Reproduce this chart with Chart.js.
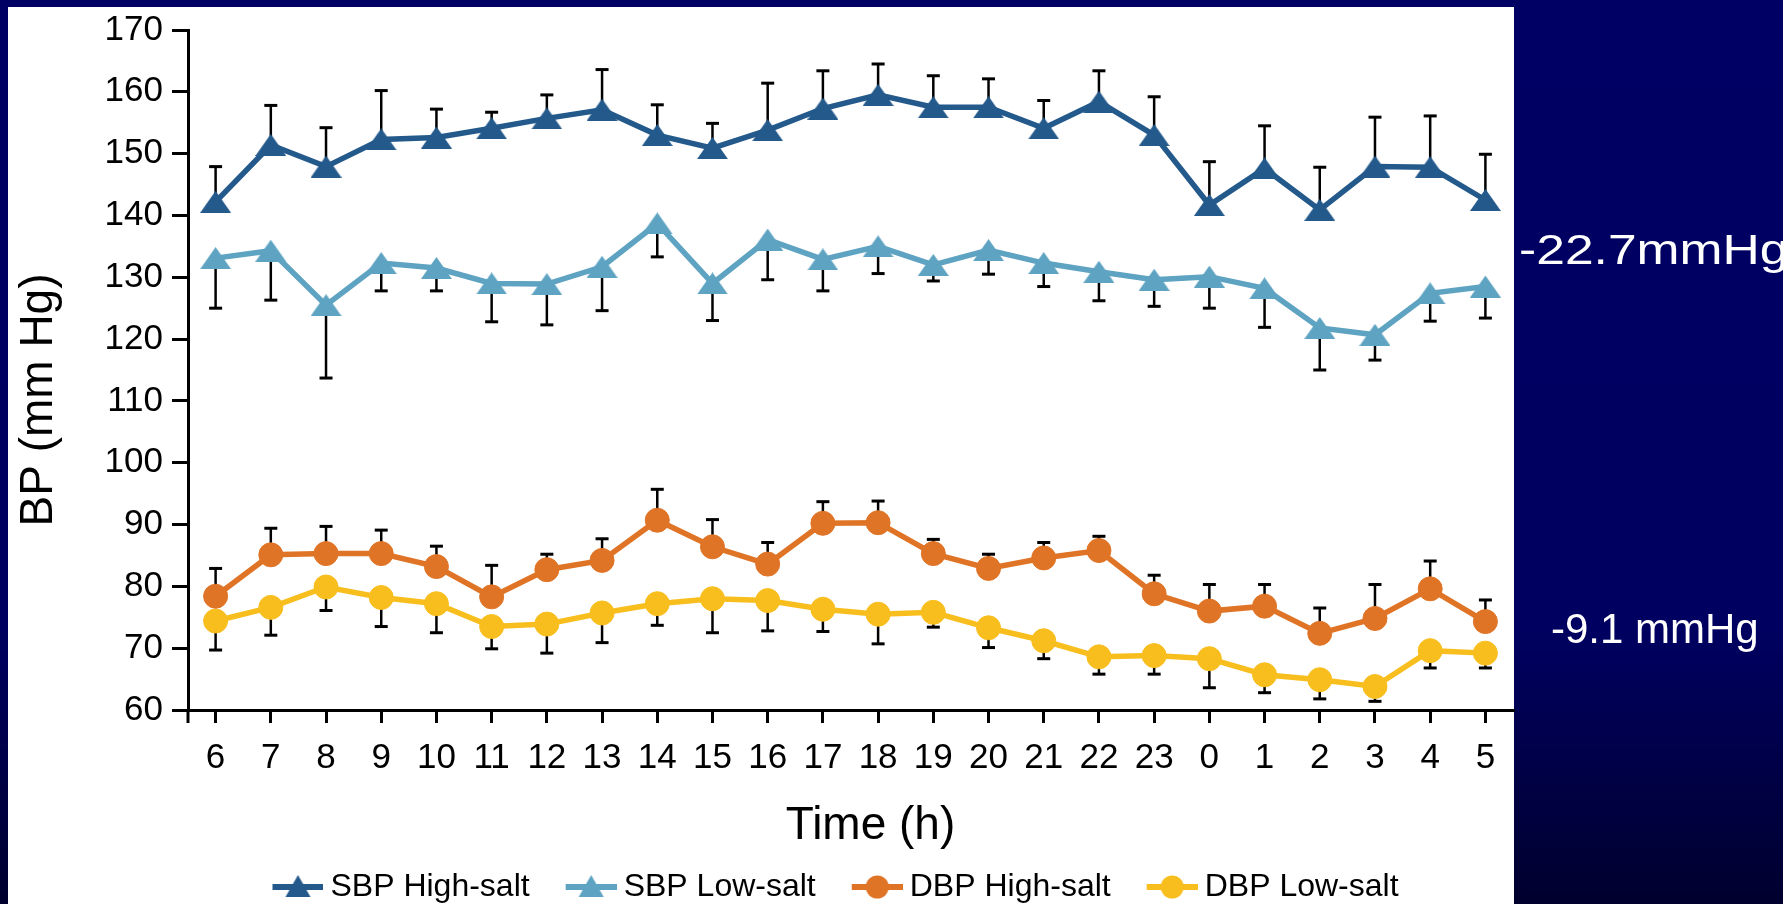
<!DOCTYPE html>
<html>
<head>
<meta charset="utf-8">
<title>BP high vs low salt</title>
<script src="https://cdn.jsdelivr.net/npm/chart.js@4.4.1/dist/chart.umd.min.js"></script>
<style>
  html, body { margin: 0; padding: 0; width: 1783px; height: 904px; overflow: hidden; }
  body {
    position: relative;
    background: linear-gradient(180deg, #000064 0%, #000060 70%, #00002e 100%);
    font-family: "Liberation Sans", Arial, sans-serif;
  }
  #panel { position: absolute; left: 8px; top: 7px; width: 1506px; height: 897px; background: #fff; }
  #bpChart { position: absolute; left: 8px; top: 7px; }
  .note { position: absolute; color: #fff; white-space: nowrap; z-index: 2; }
</style>
</head>
<body>
<div id="panel"></div>
<canvas id="bpChart" width="1620" height="906"></canvas>
<div class="note" style="left:1519px; top:228px; font-size:43px; line-height:43px; transform:scaleX(1.2); transform-origin:left top;">-22.7mmHg</div>
<div class="note" style="left:1551px; top:608px; font-size:42px; line-height:42px;">-9.1 mmHg</div>

<script>
// hours of the day, starting at 6 am
const hours = ['6', '7', '8', '9', '10', '11', '12', '13', '14', '15', '16', '17',
               '18', '19', '20', '21', '22', '23', '0', '1', '2', '3', '4', '5'];

// means (mm Hg)
const sbpHigh = [142.2, 151.4, 147.9, 152.3, 152.6, 154.1, 155.7, 157.1, 153.0, 150.9, 153.8, 157.3,
                 159.5, 157.5, 157.5, 154.1, 158.4, 153.0, 141.7, 147.6, 140.9, 147.9, 147.8, 142.5];
const sbpLow  = [133.1, 134.3, 125.5, 132.3, 131.5, 129.0, 128.9, 131.7, 138.7, 129.0, 136.1, 132.9,
                 135.0, 132.0, 134.4, 132.3, 130.9, 129.6, 130.1, 128.2, 121.8, 120.7, 127.4, 128.5];
const dbpHigh = [78.4, 85.1, 85.3, 85.3, 83.2, 78.3, 82.7, 84.2, 90.7, 86.4, 83.6, 90.2,
                 90.3, 85.3, 82.9, 84.6, 85.8, 78.8, 76.0, 76.8, 72.4, 74.8, 79.6, 74.3];
const dbpLow  = [74.4, 76.6, 79.9, 78.2, 77.2, 73.5, 73.9, 75.7, 77.2, 78.0, 77.7, 76.3,
                 75.5, 75.8, 73.3, 71.2, 68.6, 68.8, 68.3, 65.7, 64.9, 63.8, 69.6, 69.2];

// error bar lengths (one-sided, as drawn)
const sbpHighErr = [5.7, 6.4, 6.3, 7.9, 4.6, 2.6, 3.8, 6.5, 4.9, 4.0, 7.6, 6.1,
                    5.0, 5.1, 4.6, 4.5, 5.0, 6.2, 7.0, 6.9, 6.9, 8.0, 8.3, 7.4];
const sbpLowErr  = [8.1, 8.0, 11.8, 4.5, 3.7, 6.2, 6.6, 7.1, 5.4, 6.0, 6.5, 5.1,
                    4.4, 2.6, 3.9, 3.8, 4.7, 4.3, 5.1, 6.3, 6.8, 4.1, 4.5, 5.1];
const dbpHighErr = [4.5, 4.3, 4.4, 3.8, 3.3, 5.1, 2.5, 3.5, 5.0, 4.4, 3.5, 3.5,
                    3.5, 2.3, 2.3, 2.5, 2.3, 3.0, 4.3, 3.5, 4.1, 5.5, 4.5, 3.5];
const dbpLowErr  = [4.7, 4.5, 3.8, 4.7, 4.7, 3.6, 4.7, 4.8, 3.5, 5.5, 4.9, 3.6,
                    4.8, 2.4, 3.2, 2.9, 2.8, 3.0, 4.7, 2.9, 3.1, 2.4, 2.8, 2.4];

const seriesNames = ['SBP High-salt', 'SBP Low-salt', 'DBP High-salt', 'DBP Low-salt'];
const seriesColors = ['#23598b', '#5ea3c2', '#e07426', '#f8be1e'];

const FONT = '"Liberation Sans", Arial, sans-serif';

function triangle(g, cx, cy, w, h) {
    g.beginPath();
    g.moveTo(cx, cy - h / 2);
    g.lineTo(cx + w / 2, cy + h / 2);
    g.lineTo(cx - w / 2, cy + h / 2);
    g.closePath();
    g.fill();
}

// the markers on the slide are a bit wider than tall
function makeTriangleMarker(color) {
    const c = document.createElement('canvas');
    c.width = 31;
    c.height = 22;
    const g = c.getContext('2d');
    g.fillStyle = color;
    triangle(g, 15.5, 11, 31, 22);
    return c;
}

// legend icon = short line with the marker in the middle
function makeLegendIcon(color, style) {
    const c = document.createElement('canvas');
    c.width = 95;
    c.height = 36;
    const g = c.getContext('2d');
    g.strokeStyle = color;
    g.fillStyle = color;
    g.lineWidth = 6;
    g.beginPath();
    g.moveTo(44, 18);
    g.lineTo(95, 18);
    g.stroke();
    const cx = 69.5, cy = 18;
    if (style === 'triangle') {
        triangle(g, cx, cy - 1, 25, 22);
    } else {
        g.beginPath();
        g.arc(cx, cy, 11.5, 0, Math.PI * 2);
        g.fill();
    }
    return c;
}

// error bars: drawn behind the lines, high-salt go up, low-salt go down
const errorBars = {
    id: 'errorBars',
    beforeDatasetsDraw(chart) {
        const ctx = chart.ctx;
        const yScale = chart.scales.y;
        ctx.save();
        ctx.strokeStyle = '#000';
        chart.data.datasets.forEach((ds, i) => {
            const meta = chart.getDatasetMeta(i);
            meta.data.forEach((pt, j) => {
                const yEnd = yScale.getPixelForValue(ds.data[j] + ds.errDir * ds.err[j]);
                ctx.lineWidth = 2.5;
                ctx.beginPath();
                ctx.moveTo(pt.x, pt.y);
                ctx.lineTo(pt.x, yEnd);
                ctx.stroke();
                ctx.lineWidth = 3;
                ctx.beginPath();
                ctx.moveTo(pt.x - 6.5, yEnd);
                ctx.lineTo(pt.x + 6.5, yEnd);
                ctx.stroke();
            });
        });
        ctx.restore();
    }
};

// axis titles sit a little off-centre in the original slide
const axisTitles = {
    id: 'axisTitles',
    afterDraw(chart) {
        const {ctx, chartArea} = chart;
        ctx.save();
        ctx.fillStyle = '#000';
        ctx.strokeStyle = '#000';
        // y axis continues a bit below the x axis
        ctx.lineWidth = 3;
        ctx.beginPath();
        ctx.moveTo(chartArea.left, chartArea.bottom);
        ctx.lineTo(chartArea.left, chartArea.bottom + 13);
        ctx.stroke();

        ctx.font = '46px ' + FONT;
        ctx.textAlign = 'center';
        ctx.textBaseline = 'alphabetic';
        ctx.fillText('Time (h)', (chartArea.left + chartArea.right) / 2 + 20, chartArea.bottom + 129);
        ctx.translate(chartArea.left - 136, (chartArea.top + chartArea.bottom) / 2 + 30);
        ctx.rotate(-Math.PI / 2);
        ctx.fillText('BP (mm Hg)', 0, 0);
        ctx.restore();
    }
};

document.addEventListener('DOMContentLoaded', () => {
    const canvas = document.querySelector('canvas#bpChart');

    const values = [sbpHigh, sbpLow, dbpHigh, dbpLow];
    const errs = [sbpHighErr, sbpLowErr, dbpHighErr, dbpLowErr];
    const dirs = [1, -1, 1, -1];
    const styles = ['triangle', 'triangle', 'circle', 'circle'];

    const legendIcons = seriesColors.map((c, i) => makeLegendIcon(c, styles[i]));

    const datasets = values.map((v, i) => ({
        label: seriesNames[i],
        data: v,
        err: errs[i],
        errDir: dirs[i],
        borderColor: seriesColors[i],
        backgroundColor: seriesColors[i],
        borderWidth: 5.5,
        pointStyle: styles[i] === 'triangle' ? makeTriangleMarker(seriesColors[i]) : 'circle',
        pointRadius: 12,
        pointBackgroundColor: seriesColors[i],
        pointBorderColor: seriesColors[i],
        pointBorderWidth: 1,
        tension: 0,
        fill: false
    }));

    const tickFont = { family: FONT, size: 35 };

    new Chart(canvas, {
        type: 'line',
        data: { labels: hours, datasets: datasets },
        options: {
            responsive: false,
            maintainAspectRatio: false,
            animation: false,
            layout: { padding: { top: 23, left: 0, right: 0, bottom: 0 } },
            plugins: {
                tooltip: { enabled: false },
                title: { display: false },
                legend: {
                    display: true,
                    position: 'bottom',
                    labels: {
                        usePointStyle: true,
                        pointStyleWidth: 77,
                        padding: 1,
                        color: '#000',
                        font: { family: FONT, size: 32 },
                        generateLabels(chart) {
                            const items = Chart.defaults.plugins.legend.labels.generateLabels(chart);
                            items.forEach(it => {
                                it.pointStyle = legendIcons[it.datasetIndex];
                                it.fontColor = '#000';
                            });
                            return items;
                        }
                    }
                }
            },
            scales: {
                x: {
                    type: 'category',
                    offset: true,
                    grid: { display: true, drawOnChartArea: false, drawTicks: true, tickLength: 13, color: '#000', lineWidth: 3 },
                    border: { display: true, color: '#000', width: 3 },
                    ticks: { color: '#000', font: tickFont, padding: 14, maxRotation: 0, autoSkip: false },
                    afterFit(scale) { scale.height = 160; }
                },
                y: {
                    min: 60,
                    max: 170,
                    ticks: { stepSize: 10, color: '#000', font: tickFont, padding: 9 },
                    grid: { display: true, drawOnChartArea: false, drawTicks: true, tickLength: 16, color: '#000', lineWidth: 3 },
                    border: { display: true, color: '#000', width: 3 },
                    afterFit(scale) {
                        scale.width = 180;
                        scale.paddingTop = 0;
                        scale.paddingBottom = 0;
                    }
                },
                // empty right-hand axis, only keeps room so the legend centres like the original
                y2: {
                    position: 'right',
                    min: 60,
                    max: 170,
                    grid: { display: false },
                    border: { display: false },
                    ticks: { display: false },
                    afterFit(scale) { scale.width = 115; }
                }
            }
        },
        plugins: [errorBars, axisTitles]
    });
});
</script>
</body>
</html>
